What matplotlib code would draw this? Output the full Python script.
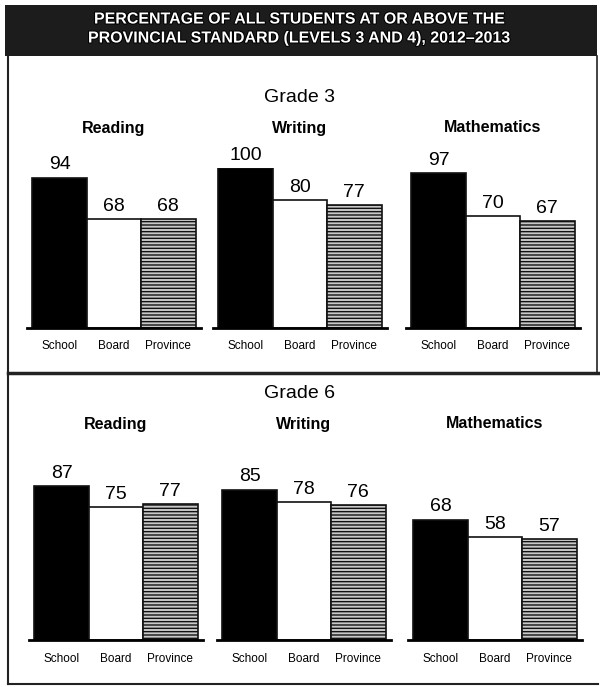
import matplotlib.pyplot as plt
import matplotlib.patheffects as pe
from matplotlib.patches import Rectangle
from matplotlib.lines import Line2D

W, H = 600, 687

title_text = ["PERCENTAGE OF ALL STUDENTS AT OR ABOVE THE",
              "PROVINCIAL STANDARD (LEVELS 3 AND 4), 2012\u20132013"]
grades = ["Grade 3", "Grade 6"]
subjects = ["Reading", "Writing", "Mathematics"]
groups = ["School", "Board", "Province"]
grade3_values = [[94, 68, 68], [100, 80, 77], [97, 70, 67]]
grade6_values = [[87, 75, 77], [85, 78, 76], [68, 58, 57]]

plt.rcParams['font.family'] = ['Liberation Sans', 'DejaVu Sans']
plt.rcParams['hatch.color'] = '#333333'

fig = plt.figure(figsize=(W / 100, H / 100), dpi=100)


def fx(px):
    return px / W


def fy(py):
    return 1 - py / H


# banner
fig.patches.append(Rectangle((fx(5), fy(56)), fx(592), 51 / H, transform=fig.transFigure,
                             facecolor='#1c1c1c', edgecolor='none', zorder=0))
for i, line in enumerate(title_text):
    fig.text(0.5, fy(19 + i * 19), line, ha='center', va='center', color='white',
             fontsize=11.5, fontweight='bold',
             path_effects=[pe.withStroke(linewidth=1.5, foreground='#000000')])

# frame lines
frame = [((8, 8), (56, 684)), ((8, 598), (684, 684)), ((597, 597), (56, 373)),
         ((8, 600), (373, 373))]
for (xs, ys), lw in zip(frame, [1.5, 1.5, 1.2, 2.5]):
    fig.lines.append(Line2D([fx(x) for x in xs], [fy(y) for y in ys],
                            transform=fig.transFigure, color='#222222', linewidth=lw))

# panel layout (pixels)
panels = [
    {"values": grade3_values, "title_y": 97, "subj_y": 128, "base": 328, "height": 160,
     "lefts": [27, 213, 406]},
    {"values": grade6_values, "title_y": 393, "subj_y": 424, "base": 640, "height": 177,
     "lefts": [29, 217, 408]},
]
ax_w = 174
colors = ['black', 'white', '#c8c8c8']
hatches = [None, None, '-----']

for grade, p in zip(grades, panels):
    fig.text(0.5, fy(p["title_y"]), grade, ha='center', va='center', fontsize=14)
    for subj, vals, left in zip(subjects, p["values"], p["lefts"]):
        ax = fig.add_axes([fx(left), fy(p["base"]), fx(ax_w), p["height"] / H])
        x = range(len(groups))
        bars = ax.bar(x, vals, width=1.0, color=colors, edgecolor='#111111', linewidth=1.2)
        for b, h in zip(bars, hatches):
            if h:
                b.set_hatch(h)
        for b, v in zip(bars, vals):
            ax.annotate(str(v), (b.get_x() + b.get_width() / 2, v), xytext=(0, 3),
                        textcoords='offset points', ha='center', va='bottom', fontsize=14)
        ax.set_xlim(-0.6, 2.6)
        ax.set_ylim(0, 100)
        ax.set_xticks(list(x))
        ax.set_xticklabels(groups, fontsize=8.5)
        ax.tick_params(axis='x', length=0, pad=9)
        ax.set_yticks([])
        for s in ['top', 'left', 'right']:
            ax.spines[s].set_visible(False)
        ax.spines['bottom'].set_linewidth(2)
        ax.patch.set_alpha(0)
        fig.text(fx(left + ax_w / 2), fy(p["subj_y"]), subj, ha='center', va='center',
                 fontsize=11.5, fontweight='bold')

fig.savefig('out.png', dpi=100, facecolor='white')
